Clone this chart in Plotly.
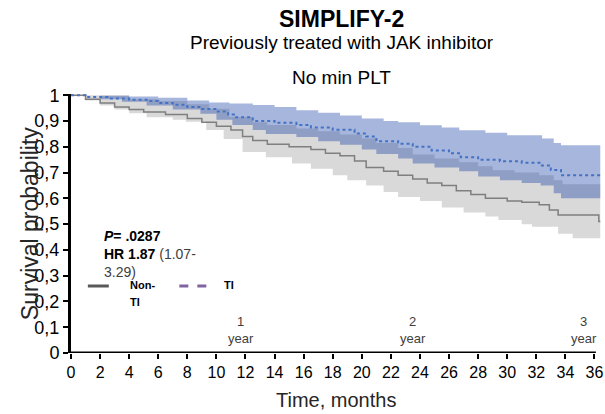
import plotly.graph_objects as go

# ---- data ----
nonti_t = [0, 1, 2, 3, 4, 5, 6.5, 8, 9, 10, 11, 11.8, 12.5, 13.5, 15, 16.5, 17.5, 18.5, 19.5, 20.3,
           21.5, 22.5, 23.5, 24.5, 25.5, 26.5, 27.5, 28.5, 30, 31, 32.2, 32.9, 33.5, 36.3, 36.4]
nonti_s = [1.0, 0.985, 0.97, 0.955, 0.945, 0.935, 0.925, 0.91, 0.895, 0.88, 0.865, 0.84, 0.825, 0.81, 0.80,
           0.79, 0.775, 0.765, 0.745, 0.72, 0.705, 0.69, 0.675, 0.66, 0.65, 0.63, 0.615, 0.60, 0.59, 0.585,
           0.575, 0.555, 0.535, 0.51, 0.51]

ti_t = [0, 1, 2.5, 4, 5.2, 6, 7, 8, 9, 10, 10.8, 11.2, 12.5, 14, 15.5, 16.5, 18, 19.5, 20.3, 21, 22.5,
        23.5, 24.8, 26, 26.8, 28, 29.5, 31, 32.3, 33, 33.7, 36.4]
ti_s = [1.0, 0.993, 0.988, 0.983, 0.978, 0.97, 0.963, 0.955, 0.947, 0.937, 0.925, 0.915, 0.90, 0.893,
        0.885, 0.875, 0.866, 0.852, 0.84, 0.822, 0.812, 0.80, 0.786, 0.775, 0.76, 0.75, 0.744, 0.738,
        0.728, 0.71, 0.69, 0.69]

ti_up_t = [0, 2, 4, 6, 8, 9.5, 10.9, 12.5, 14, 15.5, 17, 18.5, 20, 21.5, 22.5, 24, 25.5, 26.7, 28.5, 30,
           32.4, 33.2, 33.7, 36.4]
ti_up = [1.0, 0.998, 0.995, 0.99, 0.98, 0.972, 0.968, 0.962, 0.955, 0.942, 0.932, 0.922, 0.91, 0.90,
         0.895, 0.884, 0.875, 0.864, 0.855, 0.845, 0.832, 0.815, 0.806, 0.795]

ti_lo_t = [0, 2, 3.5, 5.2, 7, 8.9, 10, 11.1, 12.5, 13.4, 15.5, 17, 18.5, 20, 21, 22.5, 23.5, 25, 26.7,
           28, 29.5, 31, 32.3, 33.2, 33.7, 36.4]
ti_lo = [1.0, 0.985, 0.975, 0.96, 0.945, 0.928, 0.905, 0.885, 0.865, 0.85, 0.838, 0.822, 0.808, 0.79,
         0.772, 0.755, 0.735, 0.72, 0.705, 0.685, 0.67, 0.66, 0.65, 0.62, 0.60, 0.578]

nonti_up_t = [0, 4, 6, 8, 9.5, 10.9, 12.5, 13.5, 15.5, 17, 18.5, 20, 21, 22.5, 23.5, 25, 26.7, 28, 29,
              30.5, 32.2, 33.2, 33.8, 36.4]
nonti_up = [1.0, 0.985, 0.978, 0.965, 0.948, 0.916, 0.895, 0.885, 0.871, 0.86, 0.848, 0.832, 0.815,
            0.795, 0.77, 0.755, 0.74, 0.725, 0.709, 0.70, 0.69, 0.67, 0.655, 0.645]

nonti_lo_t = [0, 1, 2, 3, 4, 5.2, 7, 7.9, 9.3, 10.5, 11.8, 13.4, 15.2, 16.5, 18, 19, 20.3, 21.5, 22.5,
              24, 25.5, 27, 28.5, 29.4, 31, 31.7, 33.5, 34.5, 36.4]
nonti_lo = [1.0, 0.98, 0.96, 0.945, 0.93, 0.915, 0.905, 0.897, 0.865, 0.83, 0.78, 0.76, 0.735, 0.715,
            0.69, 0.67, 0.65, 0.625, 0.605, 0.59, 0.565, 0.545, 0.53, 0.516, 0.50, 0.49, 0.463, 0.445,
            0.425]

x_ticks = list(range(0, 37, 2))
y_tickvals = [i / 10 for i in range(11)]
y_ticktext = ["0", "0,1", "0,2", "0,3", "0,4", "0,5", "0,6", "0,7", "0,8", "0,9", "1"]
year_pos = [11.7, 23.5, 35.3]
year_text = ["1<br>year", "2<br>year", "3<br>year"]

FONT = "Liberation Sans, Arial, sans-serif"
GRAY_BAND = "#d9d9d9"
BLUE_BAND = "rgba(10,54,157,0.36)"

fig = go.Figure()
# Non-TI confidence band
fig.add_trace(go.Scatter(x=nonti_lo_t, y=nonti_lo, mode="lines", line=dict(width=0, shape="hv"),
                         showlegend=False, hoverinfo="skip"))
fig.add_trace(go.Scatter(x=nonti_up_t, y=nonti_up, mode="lines", line=dict(width=0, shape="hv"),
                         fill="tonexty", fillcolor=GRAY_BAND, showlegend=False, hoverinfo="skip"))
# TI confidence band
fig.add_trace(go.Scatter(x=ti_lo_t, y=ti_lo, mode="lines", line=dict(width=0, shape="hv"),
                         showlegend=False, hoverinfo="skip"))
fig.add_trace(go.Scatter(x=ti_up_t, y=ti_up, mode="lines", line=dict(width=0, shape="hv"),
                         fill="tonexty", fillcolor=BLUE_BAND, showlegend=False, hoverinfo="skip"))
# curves
fig.add_trace(go.Scatter(x=nonti_t, y=nonti_s, mode="lines", name="Non-TI",
                         line=dict(color="#7f7f7f", width=1.5, shape="hv"), showlegend=False))
fig.add_trace(go.Scatter(x=ti_t, y=ti_s, mode="lines", name="TI",
                         line=dict(color="#4472c4", width=2, shape="hv", dash="dot"), showlegend=False))

# x axis base line (ends at 36 like the reference)
fig.add_shape(type="line", xref="x", yref="y", x0=0, x1=36.1, y0=0, y1=0,
              line=dict(color="black", width=3), layer="above")

# custom legend
fig.add_shape(type="line", xref="x", yref="y", x0=1.16, x1=2.6, y0=0.26, y1=0.26,
              line=dict(color="#595959", width=3))
fig.add_shape(type="line", xref="x", yref="y", x0=7.45, x1=9.4, y0=0.26, y1=0.26,
              line=dict(color="#8064a2", width=3, dash="dash"))
fig.add_annotation(x=3.95, y=0.262, xref="x", yref="y", text="<b>Non-</b>", showarrow=False,
                   xanchor="left", yanchor="middle", font=dict(family=FONT, size=11, color="black"))
fig.add_annotation(x=3.95, y=0.197, xref="x", yref="y", text="<b>TI</b>", showarrow=False,
                   xanchor="left", yanchor="middle", font=dict(family=FONT, size=11, color="black"))
fig.add_annotation(x=10.4, y=0.262, xref="x", yref="y", text="<b>TI</b>", showarrow=False,
                   xanchor="left", yanchor="middle", font=dict(family=FONT, size=11, color="black"))

# statistics text
fig.add_annotation(x=2.1, y=0.385, xref="x", yref="y",
                   text="<b><i>P</i>= .0287</b><br><b>HR 1.87</b> <span style='color:#404040'>(1.07-</span><br><span style='color:#404040'>3.29)</span>",
                   showarrow=False, xanchor="left", yanchor="middle", align="left",
                   font=dict(family=FONT, size=14, color="black"))

# year markers
for xp, tx in zip(year_pos, year_text):
    fig.add_annotation(x=xp, y=0.088, xref="x", yref="y", text=tx, showarrow=False,
                       xanchor="center", yanchor="middle", align="center",
                       font=dict(family=FONT, size=13, color="#404040"))

# titles
fig.add_annotation(x=0.511, y=1.29, xref="paper", yref="paper", text="<b>SIMPLIFY-2</b>",
                   showarrow=False, xanchor="center", yanchor="middle",
                   font=dict(family=FONT, size=23, color="black"))
fig.add_annotation(x=0.511, y=1.197, xref="paper", yref="paper", text="Previously treated with JAK inhibitor",
                   showarrow=False, xanchor="center", yanchor="middle",
                   font=dict(family=FONT, size=19, color="black"))
fig.add_annotation(x=0.511, y=1.062, xref="paper", yref="paper", text="No min PLT",
                   showarrow=False, xanchor="center", yanchor="middle",
                   font=dict(family=FONT, size=19, color="black"))
# axis titles
fig.add_annotation(x=-0.078, y=0.5, xref="paper", yref="paper", text="Survival probability",
                   textangle=-90, showarrow=False, xanchor="center", yanchor="middle",
                   font=dict(family=FONT, size=23, color="#262626"))
fig.add_annotation(x=0.5, y=-0.181, xref="paper", yref="paper", text="Time, months",
                   showarrow=False, xanchor="center", yanchor="middle",
                   font=dict(family=FONT, size=20, color="#262626"))

fig.update_layout(
    width=605, height=414,
    margin=dict(l=71, r=2, t=94, b=61),
    paper_bgcolor="white", plot_bgcolor="white",
    font=dict(family=FONT, color="black"),
    xaxis=dict(range=[0, 36.45], tickvals=x_ticks, showgrid=False, zeroline=False, showline=False,
               ticks="outside", ticklen=5, tickwidth=2, tickcolor="black", ticklabeloverflow="allow",
               tickfont=dict(family=FONT, size=16, color="black")),
    yaxis=dict(range=[0, 1.005], tickvals=y_tickvals, ticktext=y_ticktext, showgrid=False,
               zeroline=False, showline=True, linecolor="black", linewidth=3,
               ticks="outside", ticklen=5, tickwidth=2, tickcolor="black",
               tickfont=dict(family=FONT, size=18, color="black")),
    showlegend=False,
)

fig.write_html("out.html")
